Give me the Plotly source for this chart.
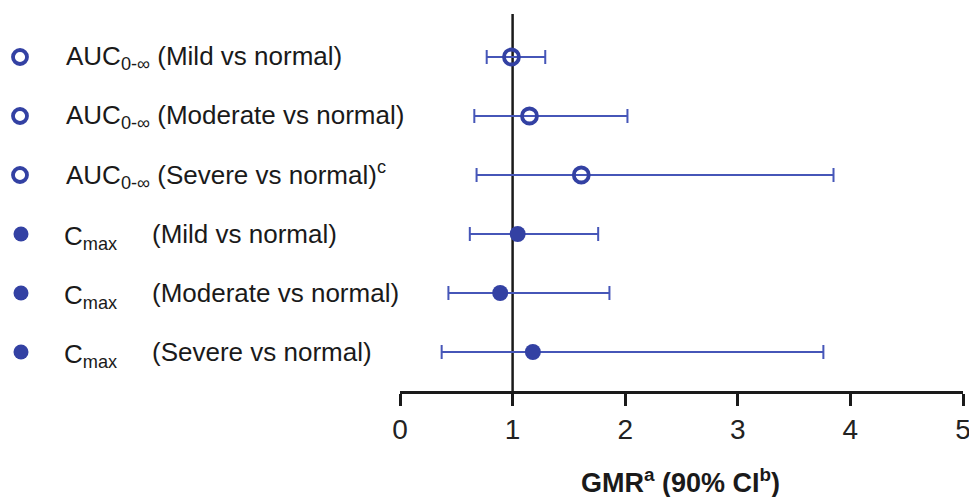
import plotly.graph_objects as go

# ---- data ----
params = ["AUC", "AUC", "AUC", "Cmax", "Cmax", "Cmax"]
comparisons = ["(Mild vs normal)", "(Moderate vs normal)", "(Severe vs normal)<sup>c</sup>",
               "(Mild vs normal)", "(Moderate vs normal)", "(Severe vs normal)"]
gmr = [0.99, 1.15, 1.61, 1.045, 0.89, 1.18]
ci_low = [0.77, 0.66, 0.68, 0.62, 0.43, 0.37]
ci_high = [1.29, 2.02, 3.85, 1.76, 1.86, 3.76]
x_ticks = [0, 1, 2, 3, 4, 5]
x_title = "<b>GMR<sup>a</sup> (90% CI<sup>b</sup>)</b>"

rows = [1, 2, 3, 4, 5, 6]
W, H = 969, 497
MARK = "#3341a3"
ERR = "#4656b8"
FONT = "Liberation Sans, Arial, sans-serif"

fig = go.Figure()

open_idx = [i for i, p in enumerate(params) if p == "AUC"]
fill_idx = [i for i, p in enumerate(params) if p == "Cmax"]

for idx, filled in ((open_idx, False), (fill_idx, True)):
    fig.add_trace(go.Scatter(
        x=[gmr[i] for i in idx],
        y=[rows[i] for i in idx],
        mode="markers",
        marker=dict(
            symbol="circle" if filled else "circle-open",
            size=16 if filled else 15,
            color=MARK,
            line=dict(width=3.8 if not filled else 0, color=MARK),
        ),
        error_x=dict(
            type="data", symmetric=False,
            array=[ci_high[i] - gmr[i] for i in idx],
            arrayminus=[gmr[i] - ci_low[i] for i in idx],
            color=ERR, thickness=2, width=7,
        ),
        xaxis="x", yaxis="y", showlegend=False, hoverinfo="skip",
    ))
    # left-side legend-like markers
    fig.add_trace(go.Scatter(
        x=[20 if not filled else 21 for i in idx],
        y=[rows[i] for i in idx],
        mode="markers",
        marker=dict(
            symbol="circle" if filled else "circle-open",
            size=15 if filled else 14,
            color=MARK,
            line=dict(width=3.8 if not filled else 0, color=MARK),
        ),
        xaxis="x2", yaxis="y", showlegend=False, hoverinfo="skip",
    ))

annotations = []
for i, (p, c) in enumerate(zip(params, comparisons)):
    if p == "AUC":
        annotations.append(dict(
            x=64, y=rows[i], xref="x2", yref="y", xanchor="left", yanchor="middle",
            text="AUC<sub>0-∞</sub> " + c, showarrow=False,
            font=dict(family=FONT, size=26, color="#1a1a1a"),
        ))
    else:
        annotations.append(dict(
            x=62, y=rows[i] + 0.06, xref="x2", yref="y", xanchor="left", yanchor="middle",
            text="C<sub>max</sub>", showarrow=False,
            font=dict(family=FONT, size=26, color="#1a1a1a"),
        ))
        annotations.append(dict(
            x=150, y=rows[i], xref="x2", yref="y", xanchor="left", yanchor="middle",
            text=c, showarrow=False,
            font=dict(family=FONT, size=26, color="#1a1a1a"),
        ))

annotations.append(dict(
    x=(680) / W, y=(H - 481) / H, xref="paper", yref="paper",
    xanchor="center", yanchor="middle", text=x_title, showarrow=False,
    font=dict(family=FONT, size=27, color="#1a1a1a"),
))

axis_bottom = 391
row1_px, step = 57, 59
y_top = 1 - row1_px / step
y_bot = 1 + (axis_bottom - row1_px) / step
line_top = 1 - (row1_px - 14) / step

fig.add_shape(type="line", x0=1, x1=1, y0=line_top, y1=y_bot, xref="x", yref="y",
              line=dict(color="#1a1a1a", width=2.5), layer="below")

fig.update_layout(
    width=W, height=H,
    margin=dict(l=0, r=0, t=0, b=0),
    paper_bgcolor="white", plot_bgcolor="white",
    annotations=annotations,
    xaxis=dict(
        domain=[400 / W, 963 / W], range=[0, 5], tickvals=x_ticks,
        showgrid=False, zeroline=False, showline=True, linecolor="#1a1a1a", linewidth=2.5,
        ticks="outside", ticklen=12, tickwidth=2.5, tickcolor="#1a1a1a",
        tickfont=dict(family=FONT, size=28, color="#222"), anchor="y",
        automargin=False, ticklabeloverflow="allow",
    ),
    xaxis2=dict(
        domain=[0, 390 / W], range=[0, 390], visible=False, anchor="y",
    ),
    yaxis=dict(
        domain=[(H - axis_bottom) / H, 1], range=[y_bot, y_top],
        visible=False, automargin=False,
    ),
)

fig.write_html("out.html", config={"displayModeBar": False},
               post_script="document.body.style.margin='0px';document.body.style.overflow='hidden';")
